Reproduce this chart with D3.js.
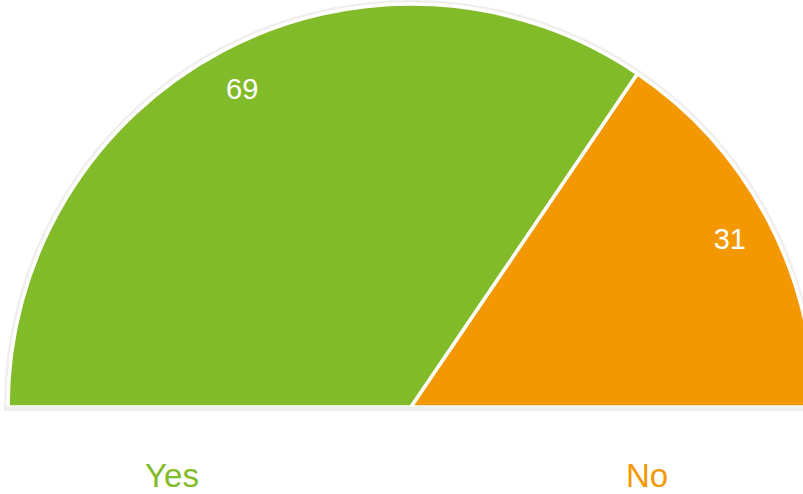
<!DOCTYPE html>
<html>
<head>
<meta charset="utf-8">
<script src="https://cdn.jsdelivr.net/npm/d3@7/dist/d3.min.js"></script>
<style>
  html, body { margin: 0; padding: 0; background: #ffffff; }
  svg { display: block; }
</style>
</head>
<body>
<svg id="chart" width="803" height="494"></svg>
<script>
const categories = ["Yes", "No"];
const values = [69, 31];
const colors = ["#82bb29", "#f39800"];

const W = 803, H = 494;
const cx = 411, cy = 407, R = 403;
const svg = d3.select("#chart");
const g = svg.append("g").attr("transform", `translate(${cx},${cy})`);

// light gray rim around the half disc
const rim = d3.arc().innerRadius(0).outerRadius(R + 4)
  .startAngle(-Math.PI / 2).endAngle(Math.PI / 2);
g.append("path").attr("d", rim()).attr("fill", "#eeeeee");

const data = categories.map((c, i) => ({ cat: c, value: values[i], color: colors[i] }));
const pie = d3.pie().value(d => d.value).sort(null)
  .startAngle(-Math.PI / 2).endAngle(Math.PI / 2);
const arcs = pie(data);
const arc = d3.arc().innerRadius(0).outerRadius(R);
const labelArc = d3.arc().innerRadius(R * 0.895).outerRadius(R * 0.895);

g.selectAll("path.slice").data(arcs).enter().append("path")
  .attr("class", "slice")
  .attr("d", arc)
  .attr("fill", d => d.data.color)
  .attr("stroke", "#ffffff")
  .attr("stroke-width", 3.5)
  .attr("stroke-linejoin", "miter");

// base line of the rim
g.append("rect").attr("x", -R - 4).attr("y", -0.5).attr("width", 2 * R + 8).attr("height", 4.5).attr("fill", "#eeeeee");

g.selectAll("text.val").data(arcs).enter().append("text")
  .attr("class", "val")
  .attr("transform", d => `translate(${labelArc.centroid(d)})`)
  .attr("text-anchor", "middle")
  .attr("dy", "0.36em")
  .attr("fill", "#ffffff")
  .style("font-family", "'Liberation Sans', Arial, Helvetica, sans-serif")
  .style("font-size", "29px")
  .text(d => d.data.value);

// category labels below
const legendX = d3.scalePoint().domain(categories).range([172, 647]);
svg.selectAll("text.cat").data(data).enter().append("text")
  .attr("class", "cat")
  .attr("x", d => legendX(d.cat))
  .attr("y", 487)
  .attr("text-anchor", "middle")
  .attr("fill", d => d.color)
  .style("font-family", "'Liberation Sans', Arial, Helvetica, sans-serif")
  .style("font-size", "33px")
  .text(d => d.cat);
</script>
</body>
</html>
